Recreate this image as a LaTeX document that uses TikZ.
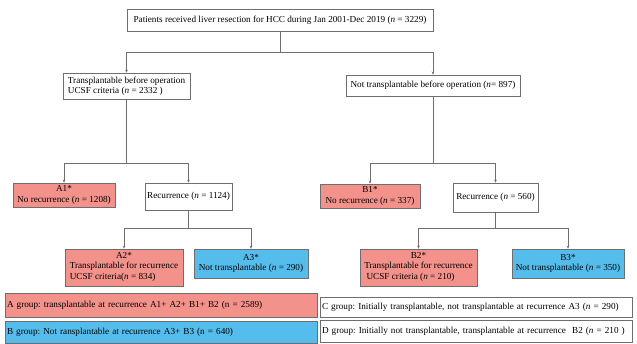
\documentclass[tikz,border=0pt]{standalone}
\usepackage{fontspec}
\setmainfont{Liberation Serif}
\usetikzlibrary{arrows.meta}

\definecolor{salmon}{HTML}{F2928A}
\definecolor{skyblue}{HTML}{55BDEB}
\definecolor{edgegray}{HTML}{6E6E6E}

\newcommand{\leftlines}[1]{\begin{tabular}[t]{@{}l@{}}#1\end{tabular}}

\begin{document}
\frenchspacing
\begin{tikzpicture}[
  x=1pt, y=-1pt,
  font=\fontsize{9.2}{10.4}\selectfont,
  box/.style={draw=edgegray, line width=0.6pt, align=center, inner sep=1.5pt},
  redbox/.style={box, fill=salmon},
  bluebox/.style={box, fill=skyblue},
  grp/.style={box, align=left, text width=308pt, inner sep=2pt},
  arr/.style={-{Stealth[length=3pt, width=2.6pt]}, edgegray, line width=0.6pt},
  ln/.style={edgegray, line width=0.6pt},
]
  \useasboundingbox (0,0) rectangle (637,344);

  % top level
  \node[box, minimum width=306pt, minimum height=22pt] (top) at (280,20)
    {Patients received liver resection for HCC during Jan 2001-Dec 2019 (\textit{n} = 3229)};
  \node[box, align=left, minimum width=127pt, minimum height=26pt] (pre) at (126.5,86)
    {Transplantable before operation\\UCSF criteria (\textit{n} = 2332 )};
  \node[box, minimum width=174pt, minimum height=21pt] (nopre) at (433,85.5)
    {Not transplantable before operation (\textit{n}= 897)};

  % left branch
  \node[redbox, minimum width=102pt, minimum height=24pt] (a1) at (64,195)
    {A1*\\No recurrence (\textit{n} = 1208)};
  \node[box, minimum width=87pt, minimum height=27pt] (reca) at (188.5,196.5)
    {Recurrence (\textit{n} = 1124)};
  \node[redbox, minimum width=118pt, minimum height=37pt] (a2) at (124,267.5)
    {A2*\\\leftlines{Transplantable for recurrence\\UCSF criteria(\textit{n} = 834)}};
  \node[bluebox, minimum width=114pt, minimum height=29pt] (a3) at (251,263.5)
    {A3*\\Not transplantable (\textit{n} = 290)};

  % right branch
  \node[redbox, minimum width=100pt, minimum height=24pt] (b1) at (370,196)
    {B1*\\No recurrence (\textit{n} = 337)};
  \node[box, minimum width=85pt, minimum height=29pt] (recb) at (495.5,197.5)
    {Recurrence (\textit{n} = 560)};
  \node[redbox, minimum width=117pt, minimum height=37pt] (b2) at (418.5,267.5)
    {B2*\\\leftlines{Transplantable for recurrence\\\ UCSF criteria (\textit{n} = 210)}};
  \node[bluebox, minimum width=112pt, minimum height=29pt] (b3) at (568,263.5)
    {B3*\\Not transplantable (\textit{n} = 350)};

  % groups
  \node[grp, fill=salmon, minimum height=24pt] (ga) at (161,305)
    {A group: transplantable at recurrence A1+ A2+ B1+ B2 (n = 2589)};
  \node[grp, fill=skyblue, minimum height=22pt] (gb) at (161,332)
    {B group: Not ransplantable at recurrence A3+ B3 (n = 640)};
  \node[grp, minimum height=20pt] (gc) at (476,307)
    {C group: Initially transplantable, not transplantable at recurrence A3 (\textit{n} = 290)};
  \node[grp, minimum height=22pt] (gd) at (476,331)
    {D group: Initially not transplantable, transplantable at recurrence\ \ B2 (\textit{n} = 210 )};

  % connectors
  \coordinate (s0) at (280,52);
  \coordinate (s1) at (126.5,163);
  \coordinate (s2) at (188.5,228);
  \coordinate (s3) at (433,163);
  \coordinate (s4) at (495.5,228);

  \draw[ln] (top) -- (s0);
  \draw[arr] (s0) -| (pre);
  \draw[arr] (s0) -| (nopre);

  \draw[ln] (pre) -- (s1);
  \draw[arr] (s1) -| (a1);
  \draw[arr] (s1) -| (reca);
  \draw[ln] (reca) -- (s2);
  \draw[arr] (s2) -| (a2);
  \draw[arr] (s2) -| (a3);

  \draw[ln] (nopre) -- (s3);
  \draw[arr] (s3) -| (b1);
  \draw[arr] (s3) -| (recb);
  \draw[ln] (recb) -- (s4);
  \draw[arr] (s4) -| (b2);
  \draw[arr] (s4) -| (b3);
\end{tikzpicture}
\end{document}
